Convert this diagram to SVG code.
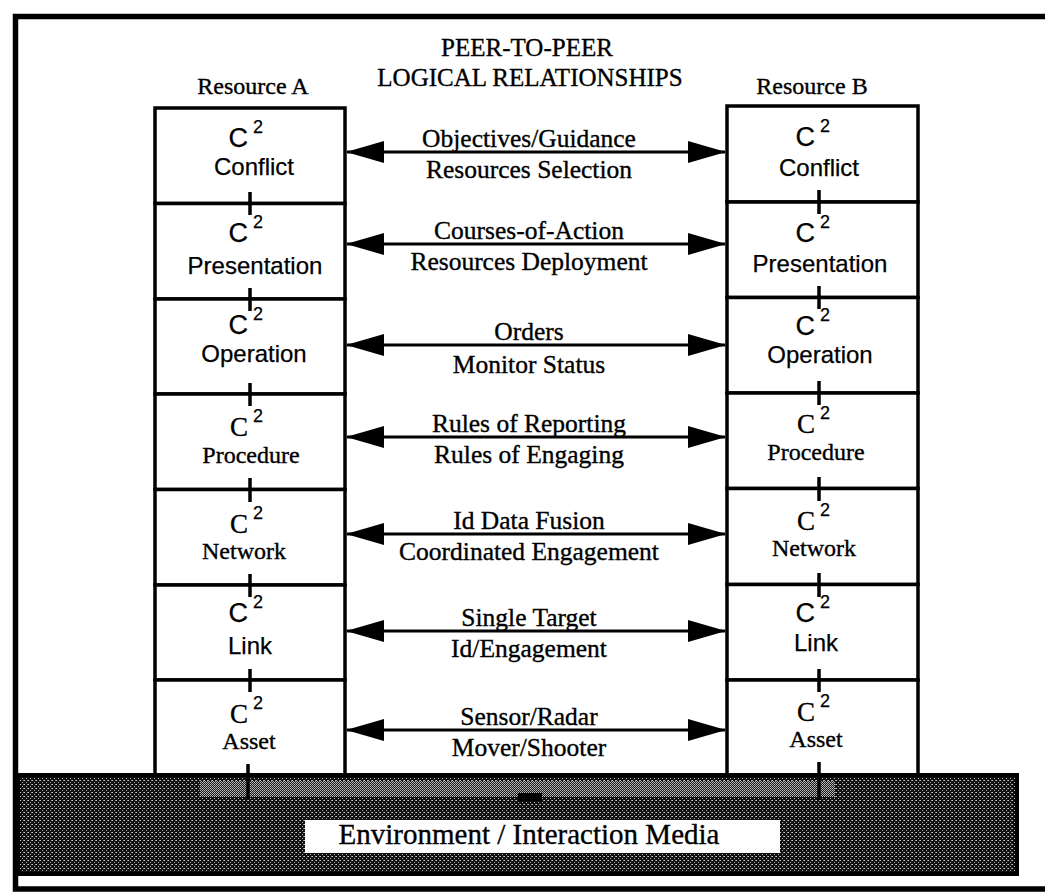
<svg xmlns="http://www.w3.org/2000/svg" width="1045" height="892" viewBox="0 0 1045 892">
  <defs>
    <style>
      .frame{fill:none;stroke:#000;stroke-width:5.5}
      .box{fill:#fff;stroke:#000;stroke-width:3.5}
      .tick{stroke:#000;stroke-width:3.5;fill:none}
      .link{stroke:#000;stroke-width:3;fill:none}
      .serif{font-family:"Liberation Serif","Times New Roman",serif;fill:#000;stroke:#000;stroke-width:0.35}
      .sans{font-family:"Liberation Sans",Arial,sans-serif;fill:#000;stroke:#000;stroke-width:0.25}
      .hdr{font-size:24px;text-anchor:middle}
      .title{font-size:25px;text-anchor:middle}
      .lbl{font-size:25.5px;text-anchor:middle}
      .big{font-size:27px;text-anchor:end}
      .sup{font-size:18px}
      .layer{font-size:24px;text-anchor:middle}
      .env{font-size:29px;text-anchor:middle}
    </style>
    <marker id="head" viewBox="0 0 38 22" refX="37" refY="11" markerWidth="38" markerHeight="22" markerUnits="userSpaceOnUse" orient="auto-start-reverse">
      <path d="M0,0 L38,11 L0,22 Z" fill="#000"/>
    </marker>
    <!-- dark stippled fill for the medium band -->
    <pattern id="stipple" width="4" height="4" patternUnits="userSpaceOnUse">
      <rect width="4" height="4" fill="#111"/>
      <rect x="0" y="0" width="1" height="1" fill="#c8c8c8"/>
      <rect x="2" y="2" width="1" height="1" fill="#b0b0b0"/>
      <rect x="3" y="0" width="1" height="1" fill="#909090"/>
    </pattern>
    <!-- lighter stipple for the upper strip -->
    <pattern id="stippleLight" width="2" height="2" patternUnits="userSpaceOnUse">
      <rect width="2" height="2" fill="#1a1a1a"/>
      <rect x="0" y="0" width="1" height="1" fill="#c0c0c0"/>
      <rect x="1" y="1" width="1" height="1" fill="#a0a0a0"/>
    </pattern>
  </defs>

  <rect width="1045" height="892" fill="#fff"/>
  <path class="frame" d="M1045,16.5 H15.5 V889 H1045"/>

  <g id="title">
    <text class="serif title" x="527" y="56">PEER-TO-PEER</text>
    <text class="serif title" x="530" y="86">LOGICAL RELATIONSHIPS</text>
  </g>
  <g id="header-a"><text class="serif hdr" x="253" y="94">Resource A</text></g>
  <g id="header-b"><text class="serif hdr" x="812" y="94">Resource B</text></g>

  <!-- Resource A stack -->
  <g id="a-conflict">
    <rect class="box" x="155" y="108" width="190" height="95.5"/>
    <text class="sans big" x="248" y="147">C</text><text class="sans sup" x="253" y="133">2</text>
    <text class="sans layer" x="254" y="175">Conflict</text>
  </g>
  <g id="a-presentation">
    <rect class="box" x="155" y="203.5" width="190" height="95.5"/>
    <text class="sans big" x="248" y="242">C</text><text class="sans sup" x="253" y="228">2</text>
    <text class="sans layer" x="255" y="274">Presentation</text>
  </g>
  <g id="a-operation">
    <rect class="box" x="155" y="299" width="190" height="95"/>
    <text class="sans big" x="248" y="334">C</text><text class="sans sup" x="253" y="320">2</text>
    <text class="sans layer" x="254" y="362">Operation</text>
  </g>
  <g id="a-procedure">
    <rect class="box" x="155" y="394" width="190" height="95.5"/>
    <text class="serif big" x="248" y="436">C</text><text class="sans sup" x="253" y="422">2</text>
    <text class="serif layer" x="251" y="463">Procedure</text>
  </g>
  <g id="a-network">
    <rect class="box" x="155" y="489.5" width="190" height="95.5"/>
    <text class="serif big" x="248" y="533">C</text><text class="sans sup" x="253" y="519">2</text>
    <text class="serif layer" x="244" y="559">Network</text>
  </g>
  <g id="a-link">
    <rect class="box" x="155" y="585" width="190" height="95"/>
    <text class="sans big" x="248" y="622">C</text><text class="sans sup" x="253" y="608">2</text>
    <text class="sans layer" x="250" y="654">Link</text>
  </g>
  <g id="a-asset">
    <rect class="box" x="155" y="680" width="190" height="95"/>
    <text class="serif big" x="248" y="723">C</text><text class="sans sup" x="253" y="709">2</text>
    <text class="serif layer" x="249" y="749">Asset</text>
  </g>

  <!-- Resource B stack -->
  <g id="b-conflict">
    <rect class="box" x="727" y="106" width="191" height="96"/>
    <text class="sans big" x="815" y="146">C</text><text class="sans sup" x="820" y="132">2</text>
    <text class="sans layer" x="819" y="176">Conflict</text>
  </g>
  <g id="b-presentation">
    <rect class="box" x="727" y="202" width="191" height="95.5"/>
    <text class="sans big" x="815" y="242">C</text><text class="sans sup" x="820" y="228">2</text>
    <text class="sans layer" x="820" y="272">Presentation</text>
  </g>
  <g id="b-operation">
    <rect class="box" x="727" y="297.5" width="191" height="95.5"/>
    <text class="sans big" x="815" y="335">C</text><text class="sans sup" x="820" y="321">2</text>
    <text class="sans layer" x="820" y="363">Operation</text>
  </g>
  <g id="b-procedure">
    <rect class="box" x="727" y="393" width="191" height="95.5"/>
    <text class="serif big" x="815" y="433">C</text><text class="sans sup" x="820" y="419">2</text>
    <text class="serif layer" x="816" y="460">Procedure</text>
  </g>
  <g id="b-network">
    <rect class="box" x="727" y="488.5" width="191" height="96"/>
    <text class="serif big" x="815" y="530">C</text><text class="sans sup" x="820" y="516">2</text>
    <text class="serif layer" x="814" y="556">Network</text>
  </g>
  <g id="b-link">
    <rect class="box" x="727" y="584.5" width="191" height="95.5"/>
    <text class="sans big" x="815" y="622">C</text><text class="sans sup" x="820" y="608">2</text>
    <text class="sans layer" x="816" y="651">Link</text>
  </g>
  <g id="b-asset">
    <rect class="box" x="727" y="680" width="191" height="95"/>
    <text class="serif big" x="815" y="721">C</text><text class="sans sup" x="820" y="707">2</text>
    <text class="serif layer" x="816" y="747">Asset</text>
  </g>

  <!-- Environment / interaction media band -->
  <g id="environment">
    <rect x="18" y="775" width="999" height="99" fill="url(#stipple)" stroke="#000" stroke-width="4"/>
    <rect x="200" y="781" width="635" height="16" fill="url(#stippleLight)"/>
    <rect x="518" y="793" width="24" height="8" fill="#000"/>
    <rect x="305" y="820" width="475" height="33" fill="#fff"/>
    <text class="serif env" x="529" y="844">Environment / Interaction Media</text>
  </g>

  <g id="connectors">
    <!-- layer-to-layer ticks, Resource A -->
    <path class="tick" d="M250,192 V215 M250,288 V311 M250,383 V406 M250,478 V502 M250,574 V597 M250,669 V692 M248,764 V799"/>
    <!-- layer-to-layer ticks, Resource B -->
    <path class="tick" d="M819,190 V214 M819,286 V309 M819,381 V405 M819,477 V501 M819,573 V597 M819,669 V692 M819,762 V800"/>
    <!-- peer relationships -->
    <g id="rel-conflict">
      <line class="link" x1="347" y1="152" x2="725" y2="152" marker-start="url(#head)" marker-end="url(#head)"/>
      <text class="serif lbl" x="529" y="146.5">Objectives/Guidance</text>
      <text class="serif lbl" x="529" y="178">Resources Selection</text>
    </g>
    <g id="rel-presentation">
      <line class="link" x1="347" y1="244" x2="725" y2="244" marker-start="url(#head)" marker-end="url(#head)"/>
      <text class="serif lbl" x="529" y="238.5">Courses-of-Action</text>
      <text class="serif lbl" x="529" y="270">Resources Deployment</text>
    </g>
    <g id="rel-operation">
      <line class="link" x1="347" y1="345" x2="725" y2="345" marker-start="url(#head)" marker-end="url(#head)"/>
      <text class="serif lbl" x="529" y="339.5">Orders</text>
      <text class="serif lbl" x="529" y="373">Monitor Status</text>
    </g>
    <g id="rel-procedure">
      <line class="link" x1="347" y1="437" x2="725" y2="437" marker-start="url(#head)" marker-end="url(#head)"/>
      <text class="serif lbl" x="529" y="431.5">Rules of Reporting</text>
      <text class="serif lbl" x="529" y="463">Rules of Engaging</text>
    </g>
    <g id="rel-network">
      <line class="link" x1="347" y1="534" x2="725" y2="534" marker-start="url(#head)" marker-end="url(#head)"/>
      <text class="serif lbl" x="529" y="528.5">Id Data Fusion</text>
      <text class="serif lbl" x="529" y="560">Coordinated Engagement</text>
    </g>
    <g id="rel-link">
      <line class="link" x1="347" y1="631" x2="725" y2="631" marker-start="url(#head)" marker-end="url(#head)"/>
      <text class="serif lbl" x="529" y="625.5">Single Target</text>
      <text class="serif lbl" x="529" y="657">Id/Engagement</text>
    </g>
    <g id="rel-asset">
      <line class="link" x1="347" y1="730" x2="725" y2="730" marker-start="url(#head)" marker-end="url(#head)"/>
      <text class="serif lbl" x="529" y="724.5">Sensor/Radar</text>
      <text class="serif lbl" x="529" y="756">Mover/Shooter</text>
    </g>
  </g>
</svg>
